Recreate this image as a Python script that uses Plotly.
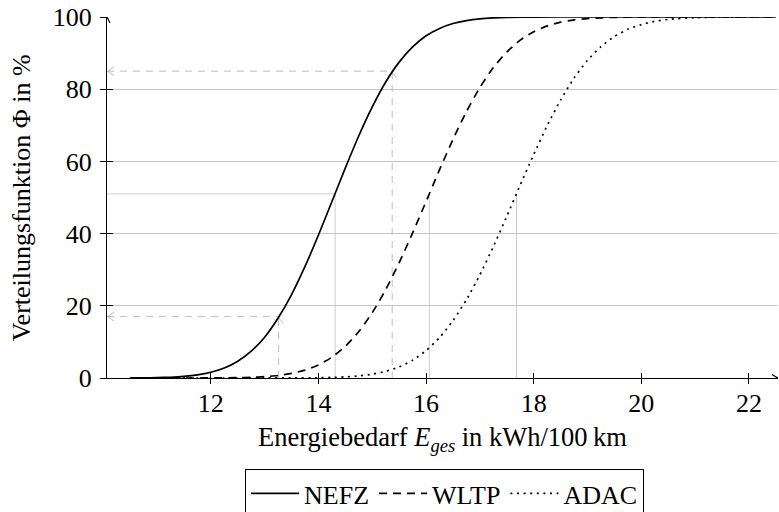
import plotly.graph_objects as go

# ---------------- data ----------------
nefz_x = [10.5, 10.75, 11, 11.25, 11.5, 11.75, 12, 12.25, 12.5, 12.75, 13, 13.25, 13.5, 13.75,
          14, 14.25, 14.5, 14.75, 15, 15.25, 15.5, 15.75, 16, 16.25, 16.5, 16.75, 17, 17.25,
          17.5, 18, 19, 20, 21, 22.5]
nefz_y = [0.02, 0.04, 0.1, 0.21, 0.44, 0.85, 1.58, 2.77, 4.65, 7.45, 11.3, 16.6, 23.1, 30.9,
          39.6, 48.9, 58.2, 67.1, 75.1, 82.0, 87.5, 91.7, 94.8, 96.84, 98.2, 99.01, 99.49, 99.74,
          99.88, 99.98, 100, 100, 100, 100]

wltp_x = [10.5, 11, 11.5, 12, 12.5, 12.75, 13, 13.25, 13.5, 13.75, 14, 14.25, 14.5, 14.75,
          15, 15.25, 15.5, 15.75, 16, 16.25, 16.5, 16.75, 17, 17.25, 17.5, 17.75, 18, 18.25,
          18.5, 18.75, 19, 19.25, 19.5, 20, 21, 22.5]
wltp_y = [0, 0, 0, 0.02, 0.09, 0.18, 0.37, 0.69, 1.26, 2.18, 3.62, 5.76, 8.79, 12.86,
          18.1, 24.5, 31.95, 40.2, 48.9, 57.7, 66.1, 73.8, 80.5, 86.0, 90.3, 93.6, 95.9, 97.53,
          98.56, 99.2, 99.57, 99.78, 99.89, 99.98, 100, 100]

adac_x = [10.5, 11, 12, 13, 13.5, 14, 14.25, 14.5, 14.75, 15, 15.25, 15.5, 15.75, 16, 16.25,
          16.5, 16.75, 17, 17.25, 17.5, 17.75, 18, 18.25, 18.5, 18.75, 19, 19.25, 19.5, 19.75,
          20, 20.25, 20.5, 21, 21.5, 22.5]
adac_y = [0, 0, 0, 0.01, 0.02, 0.08, 0.16, 0.31, 0.58, 1.07, 1.84, 3.07, 4.93, 7.6, 11.2,
          15.9, 21.7, 28.6, 36.4, 44.8, 53.5, 61.9, 69.9, 77.0, 83.1, 88.0, 91.8, 94.6, 96.6,
          97.9, 98.81, 99.34, 99.82, 99.96, 100]

series_names = ["NEFZ", "WLTP", "ADAC"]

median_x = [14.31, 16.06, 17.68]      # vertical median lines
median_level = 51                     # % level of the median marks
quantile_x = [13.26, 15.37]           # read-off points on the NEFZ curve
quantile_level = [17, 85]

x_ticks = [12, 14, 16, 18, 20, 22]
y_ticks = [0, 20, 40, 60, 80, 100]
x_range = [10.07, 22.54]
y_range = [0, 100]

# ---------------- styling ----------------
FONT = "'Liberation Serif', 'Times New Roman', serif"
FS = 26
GRID = "#c4c4c4"
MED = "#cdcdcd"
QCOL = "#bdbdbd"

fig = go.Figure()

dashes = ["solid", "8px,6px", "2px,4.6px"]
for name, xs, ys, dash in zip(series_names, [nefz_x, wltp_x, adac_x],
                              [nefz_y, wltp_y, adac_y], dashes):
    fig.add_trace(go.Scatter(
        x=xs, y=ys, name=name, mode="lines",
        line=dict(color="black", width=1.7, shape="spline", smoothing=0.6, dash=dash),
        cliponaxis=False,
    ))

# dummy trace for overlay axes (inner half of crossing ticks)
fig.add_trace(go.Scatter(x=[None], y=[None], xaxis="x2", yaxis="y2",
                         showlegend=False, hoverinfo="skip"))

shapes = []
# median lines
shapes.append(dict(type="line", xref="x", yref="y", x0=x_range[0], x1=median_x[0],
                   y0=median_level, y1=median_level, line=dict(color=MED, width=1), layer="below"))
for mx in median_x:
    shapes.append(dict(type="line", xref="x", yref="y", x0=mx, x1=mx, y0=0, y1=median_level,
                       line=dict(color=MED, width=1), layer="below"))
# quantile read-off dashed arrows
for qx, ql in zip(quantile_x, quantile_level):
    shapes.append(dict(type="line", xref="x", yref="y", x0=qx, x1=qx, y0=0, y1=ql,
                       line=dict(color=QCOL, width=1, dash="7px,6px"), layer="below"))
    shapes.append(dict(type="line", xref="x", yref="y", x0=x_range[0], x1=qx, y0=ql, y1=ql,
                       line=dict(color=QCOL, width=1, dash="7px,6px"), layer="below"))
    shapes.append(dict(type="path", xref="x", yref="y", xsizemode="pixel", ysizemode="pixel",
                       xanchor=x_range[0], yanchor=ql, path="M 7,4.5 Q 2,1 1,0 Q 2,-1 7,-4.5",
                       line=dict(color=QCOL, width=1), layer="below"))
    shapes.append(dict(type="path", xref="x", yref="y", xsizemode="pixel", ysizemode="pixel",
                       xanchor=qx, yanchor=ql, path="M -4.5,-7 Q -1,-2 0,-1 Q 1,-2 4.5,-7",
                       line=dict(color=QCOL, width=1), layer="below"))
# axis arrows
shapes.append(dict(type="path", xref="x", yref="y", xsizemode="pixel", ysizemode="pixel",
                   xanchor=x_range[0], yanchor=y_range[1], path="M -3,-6 Q -1,-2 0,0 Q 1,-2 3,-6",
                   line=dict(color="black", width=1.2)))
shapes.append(dict(type="path", xref="x", yref="y", xsizemode="pixel", ysizemode="pixel",
                   xanchor=x_range[1], yanchor=y_range[0], path="M -6,3.5 Q -2,1 0,0 Q -2,-1 -6,-3.5",
                   line=dict(color="black", width=1.2)))

annotations = [
    dict(text="Verteilungsfunktion Φ in %", xref="paper", yref="paper",
         x=-0.127, y=0.5, xanchor="center", yanchor="middle", textangle=-90,
         showarrow=False, font=dict(family=FONT, size=FS, color="black")),
    dict(text="Energiebedarf <i>E</i><sub><i>ges</i></sub> in kWh/100\u2009km",
         xref="paper", yref="paper", x=0.5, y=-0.17, xanchor="center", yanchor="middle",
         showarrow=False, font=dict(family=FONT, size=FS + 0.5, color="black")),
]

axis_common = dict(showline=True, linecolor="black", linewidth=1.2, zeroline=False,
                   tickcolor="black", tickwidth=1, ticks="outside",
                   tickfont=dict(family=FONT, size=FS, color="black"))

fig.update_layout(
    width=779, height=512,
    margin=dict(l=107, r=1, t=17, b=134, autoexpand=False),
    paper_bgcolor="white", plot_bgcolor="white",
    font=dict(family=FONT, size=FS, color="black"),
    xaxis=dict(range=x_range, tickvals=x_ticks, showgrid=False, ticklen=5,
               ticklabelstandoff=-3, **axis_common),
    yaxis=dict(range=y_range, tickvals=y_ticks, showgrid=True, gridcolor=GRID, gridwidth=1,
               ticklen=6, ticklabelstandoff=3, **axis_common),
    xaxis2=dict(range=x_range, tickvals=x_ticks, overlaying="x", anchor="y2", side="bottom",
                showgrid=False, zeroline=False, showticklabels=False, ticks="inside",
                ticklen=5, tickcolor="black", showline=False),
    yaxis2=dict(range=y_range, tickvals=y_ticks, overlaying="y", anchor="x2", side="left",
                showgrid=False, zeroline=False, showticklabels=False, ticks="inside",
                ticklen=6, tickcolor="black", showline=False),
    showlegend=True,
    legend=dict(orientation="h", x=0.503, xanchor="center", y=-0.252, yanchor="top",
                bordercolor="black", borderwidth=1, bgcolor="white",
                font=dict(family=FONT, size=FS, color="black"), itemwidth=48),
    shapes=shapes,
    annotations=annotations,
)

fig.write_html("out.html", config={"displayModeBar": False},
               post_script="document.body.style.margin='0';document.body.style.padding='0';")
